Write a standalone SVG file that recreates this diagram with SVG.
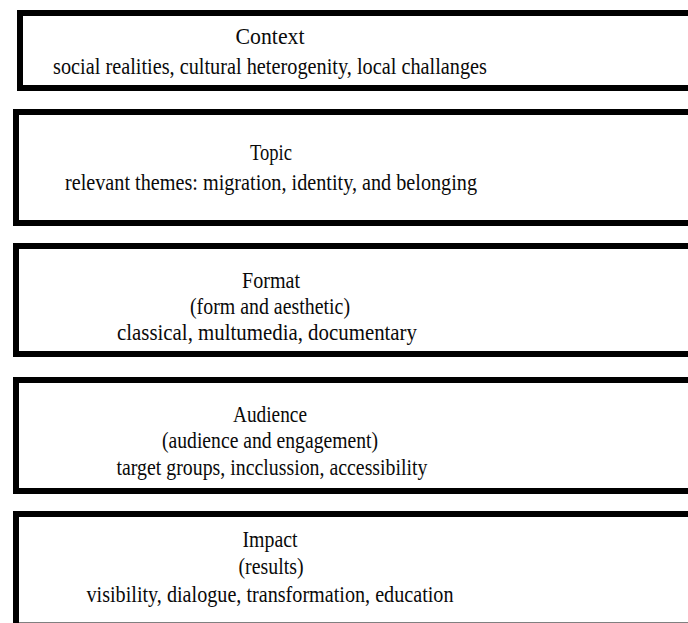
<svg xmlns="http://www.w3.org/2000/svg" width="688" height="623" viewBox="0 0 688 623">
  <style>
    .box { fill: #ffffff; stroke: #000000; stroke-width: 6; }
    .t { font-family: "Liberation Serif", "DejaVu Serif", serif; font-size: 22.5px; fill: #0a0a0a; text-anchor: middle; }
  </style>
  <rect width="688" height="623" fill="#ffffff"/>
  <g id="connectors"/>
  <g id="context">
    <rect class="box" x="20" y="13" width="690" height="75"/>
    <text class="t" x="270" y="44" textLength="69" lengthAdjust="spacingAndGlyphs">Context</text>
    <text class="t" x="270" y="74" textLength="434" lengthAdjust="spacingAndGlyphs">social realities, cultural heterogenity, local challanges</text>
  </g>
  <g id="topic">
    <rect class="box" x="16" y="112" width="694" height="111"/>
    <text class="t" x="271" y="160" textLength="42" lengthAdjust="spacingAndGlyphs">Topic</text>
    <text class="t" x="271" y="190" textLength="412" lengthAdjust="spacingAndGlyphs">relevant themes: migration, identity, and belonging</text>
  </g>
  <g id="format">
    <rect class="box" x="16" y="246" width="694" height="108"/>
    <text class="t" x="271" y="288" textLength="58" lengthAdjust="spacingAndGlyphs">Format</text>
    <text class="t" x="270" y="314" textLength="160" lengthAdjust="spacingAndGlyphs">(form and aesthetic)</text>
    <text class="t" x="267" y="340" textLength="300" lengthAdjust="spacingAndGlyphs">classical, multumedia, documentary</text>
  </g>
  <g id="audience">
    <rect class="box" x="16" y="380" width="694" height="111"/>
    <text class="t" x="270" y="422" textLength="74" lengthAdjust="spacingAndGlyphs">Audience</text>
    <text class="t" x="270" y="448" textLength="216" lengthAdjust="spacingAndGlyphs">(audience and engagement)</text>
    <text class="t" x="272" y="475" textLength="311" lengthAdjust="spacingAndGlyphs">target groups, incclussion, accessibility</text>
  </g>
  <g id="impact">
    <rect class="box" x="16" y="514" width="694" height="111.5"/>
    <text class="t" x="270" y="547" textLength="55" lengthAdjust="spacingAndGlyphs">Impact</text>
    <text class="t" x="271" y="574" textLength="65" lengthAdjust="spacingAndGlyphs">(results)</text>
    <text class="t" x="270" y="602" textLength="367" lengthAdjust="spacingAndGlyphs">visibility, dialogue, transformation, education</text>
  </g>
</svg>
